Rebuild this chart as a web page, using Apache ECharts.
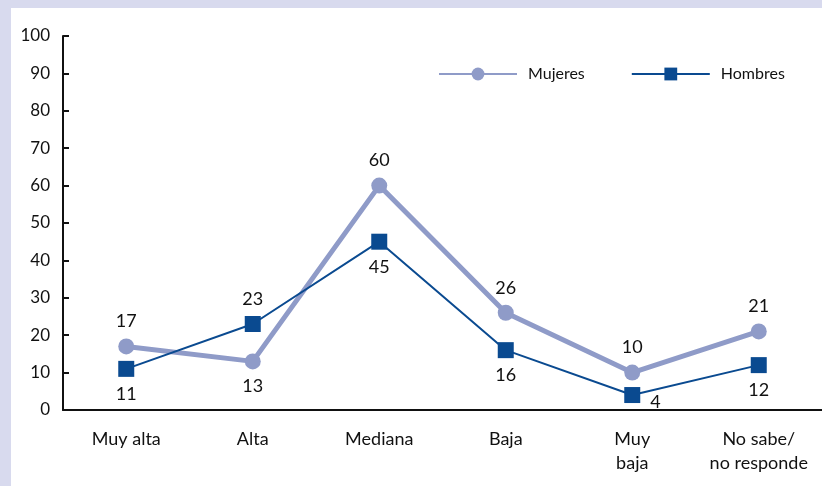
<!DOCTYPE html>
<html>
<head>
<meta charset="utf-8">
<script src="https://cdn.jsdelivr.net/npm/echarts@6/dist/echarts.min.js"></script>
<style>
  html, body { margin: 0; padding: 0; background: #d8daee; }
  #chart { position: absolute; left: 11px; top: 8px; width: 811px; height: 478px; background: #fff; }
</style>
</head>
<body>
<div id="chart"></div>
<script>
const categories = ['Muy alta', 'Alta', 'Mediana', 'Baja', 'Muy\nbaja', 'No sabe/\nno responde']
const mujeres = [17, 13, 60, 26, 10, 21]
const hombres = [11, 23, 45, 16, 4, 12]

const mujeresBelow = [1]          // índices con etiqueta abajo
const hombresAbove = [1]          // índices con etiqueta arriba
const hombresRight = [4]

const font = 'Lato, "Open Sans", sans-serif'
const chart = echarts.init(document.getElementById('chart'))

const labelBase = { show: true, fontSize: 18, color: '#111', fontFamily: font, distance: 8 }

chart.setOption({
  animation: false,
  grid: { left: 52, right: 0, top: 28, bottom: 76 },
  legend: {
    left: 422, top: 53,
    itemWidth: 78, itemHeight: 16, itemGap: 46,
    textStyle: { fontSize: 16, color: '#111', fontFamily: font, padding: [0, 0, 0, 6] },
    data: ['Mujeres', 'Hombres'],
  },
  xAxis: {
    type: 'category',
    data: categories,
    axisLine: { lineStyle: { color: '#111', width: 2 } },
    axisTick: { show: false },
    axisLabel: { interval: 0, hideOverlap: false, fontSize: 18, color: '#111', fontFamily: font, margin: 17, lineHeight: 24 },
  },
  yAxis: {
    type: 'value', min: 0, max: 100, interval: 10,
    splitLine: { show: false },
    axisLine: { show: true, lineStyle: { color: '#111', width: 2 } },
    axisTick: { show: true, inside: true, length: 6, lineStyle: { color: '#111', width: 2 } },
    axisLabel: { fontSize: 17, color: '#111', fontFamily: font, margin: 13 },
  },
  series: [
    {
      name: 'Mujeres', type: 'line',
      data: mujeres.map((v, i) => ({
        value: v,
        label: mujeresBelow.includes(i) ? { position: 'bottom' } : { position: 'top' },
      })),
      symbol: 'circle', symbolSize: 16,
      lineStyle: { color: '#8f9bc8', width: 5 },
      itemStyle: { color: '#8f9bc8' },
      label: labelBase,
      z: 2,
    },
    {
      name: 'Hombres', type: 'line',
      data: hombres.map((v, i) => ({
        value: v,
        label: hombresRight.includes(i)
          ? { position: 'right', offset: [2, 7] }
          : hombresAbove.includes(i) ? { position: 'top' } : { position: 'bottom' },
      })),
      symbol: 'rect', symbolSize: 16,
      lineStyle: { color: '#0a4a90', width: 2 },
      itemStyle: { color: '#0a4a90' },
      label: labelBase,
      z: 3,
    },
  ],
})
</script>
</body>
</html>
